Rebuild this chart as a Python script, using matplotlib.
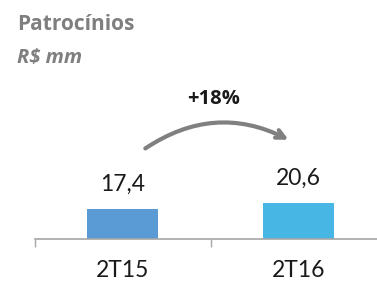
import matplotlib.pyplot as plt
from matplotlib.patches import FancyArrowPatch

plt.rcParams['font.family'] = ['Lato', 'DejaVu Sans']

categories = ['2T15', '2T16']
values = [17.4, 20.6]
labels = ['17,4', '20,6']
colors = ['#5B9BD5', '#47B6E4']
growth = '+18%'

fig = plt.figure(figsize=(3.77, 2.83), dpi=100)
ax = fig.add_axes([34.5 / 377, 44 / 283, 352 / 377, 87 / 283])

x = range(len(categories))
ax.bar(x, values, width=0.40, color=colors)
ax.set_xlim(-0.5, 1.5)
ax.set_ylim(0, 50)

for xi, v, lab in zip(x, values, labels):
    ax.annotate(lab, (xi, v), xytext=(0, 13), textcoords='offset points',
                ha='center', va='baseline', fontsize=16.5, color='#1a1a1a')

# category boundaries get the tick marks, labels sit at the centres
ax.set_xticks([-0.5, 0.5, 1.5])
ax.set_xticklabels([])
ax.tick_params(axis='x', which='major', length=6, width=1, color='#A6A6A6')
ax.set_xticks(list(x), minor=True)
ax.set_xticklabels(categories, minor=True)
ax.tick_params(axis='x', which='minor', length=0, pad=15, labelsize=16.5,
               labelcolor='#1a1a1a')
ax.set_yticks([])
for s in ['top', 'right', 'left']:
    ax.spines[s].set_visible(False)
ax.spines['bottom'].set_color('#A6A6A6')
ax.spines['bottom'].set_linewidth(1.2)

title_font = ['Open Sans', 'DejaVu Sans']
fig.text(17 / 377, 1 - 24 / 283, 'Patrocínios', fontsize=15, fontweight='bold',
         color='#7F7F7F', va='center', ha='left', family=title_font)
fig.text(17 / 377, 1 - 58 / 283, 'R$ mm', fontsize=14.5, fontweight='bold',
         style='italic', color='#7F7F7F', va='center', ha='left', family=title_font)
fig.text(214 / 377, 1 - 99 / 283, growth, fontsize=14.5, fontweight='bold',
         color='#1a1a1a', va='center', ha='center', family=title_font)

arrow = FancyArrowPatch((143 / 377, 1 - 150 / 283), (291 / 377, 1 - 141 / 283),
                        transform=fig.transFigure,
                        connectionstyle='arc3,rad=-0.3',
                        arrowstyle='->,head_length=6,head_width=3',
                        color='#808080', lw=3)
fig.patches.append(arrow)

fig.savefig('out.png', dpi=100)
